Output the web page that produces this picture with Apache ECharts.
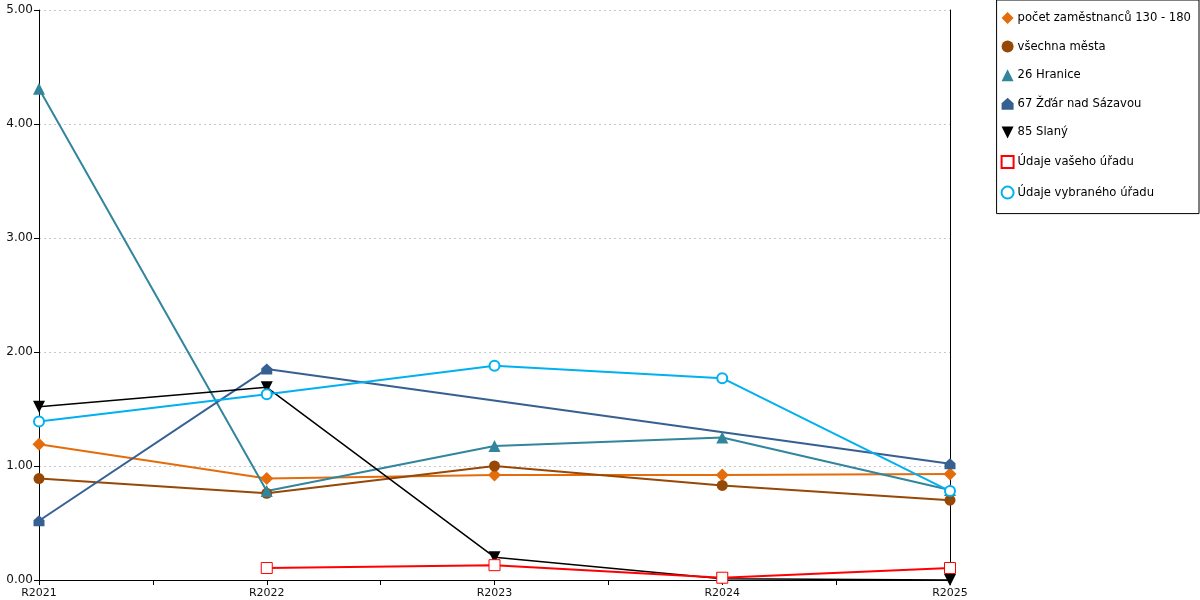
<!DOCTYPE html>
<html>
<head>
<meta charset="utf-8">
<script src="https://cdn.jsdelivr.net/npm/echarts@6/dist/echarts.min.js"></script>
<style>
    html,body{margin:0;padding:0;background:#fff;}
    #chart{width:1200px;height:600px;}
</style>
</head>
<body>
<div id="chart"></div>
<script>
    // roky
    var years = ['R2021', 'R2022', 'R2023', 'R2024', 'R2025'];
    var yTicks = [0, 1, 2, 3, 4, 5];

    var zamestnanci = [1.19, 0.89, 0.92, 0.92, 0.93];
    var vsechnaMesta = [0.89, 0.76, 1.00, 0.83, 0.70];
    var hranice = [4.31, 0.78, 1.175, 1.25, 0.79];
    var zdar = [0.52, 1.85, null, null, 1.02];
    var slany = [1.52, 1.69, 0.20, 0.01, 0.00];
    var vasUrad = [null, 0.105, 0.13, 0.02, 0.105];
    var vybranyUrad = [1.39, 1.63, 1.88, 1.77, 0.78];

    var names = ['počet zaměstnanců 130 - 180', 'všechna města', '26 Hranice',
        '67 Žďár nad Sázavou', '85 Slaný', 'Údaje vašeho úřadu', 'Údaje vybraného úřadu'];

    var house = 'path://M0,10 L0,4.5 L5,0 L10,4.5 L10,10 Z';
    var downTri = 'path://M0,0 L10,0 L5,10 Z';
    var icons = ['diamond', 'circle', 'triangle', house, downTri, 'rect', 'emptyCircle'];

    // hodnoty -> [x, y] pro ciselnou osu x
    function pairs(arr){
        var out = [];
        for (var i = 0; i < arr.length; i++) {
            if (arr[i] !== null) out.push([i, arr[i]]);
        }
        return out;
    }

    function ser(name, data, color, symbol, size, width, extra){
        var s = {
            name: name,
            type: 'line',
            data: pairs(data),
            symbol: symbol,
            symbolSize: size,
            showAllSymbol: true,
            connectNulls: true,
            lineStyle: {color: color, width: width},
            itemStyle: {color: color},
            emphasis: {disabled: true},
            animation: false
        };
        if (extra) for (var k in extra) s[k] = extra[k];
        return s;
    }

    var legendData = names.map(function(n, i){ return {name: n, icon: icons[i]}; });

    var chart = echarts.init(document.getElementById('chart'));
    chart.setOption({
        backgroundColor: '#fff',
        textStyle: {fontFamily: 'DejaVu Sans', fontSize: 12},
        grid: {left: 39, right: 250, top: 10, bottom: 20},
        legend: {
            orient: 'vertical',
            right: 1,
            top: 0,
            padding: [12, 8, 14, 4],
            itemGap: 16.6,
            itemWidth: 12,
            itemHeight: 12,
            borderColor: '#000',
            borderWidth: 1,
            textStyle: {color: '#000', fontSize: 11.6, fontFamily: 'DejaVu Sans', padding: [0, 0, 0, -1]},
            data: legendData
        },
        xAxis: {
            type: 'value',
            min: 0,
            max: years.length - 1,
            interval: 0.5,
            axisLine: {lineStyle: {color: '#000', width: 1}},
            axisTick: {show: true, length: 5, lineStyle: {color: '#000'}},
            splitLine: {show: false},
            axisLabel: {
                color: '#111', fontSize: 11, margin: 8,
                formatter: function(v){ return Number.isInteger(v) ? years[v] : ''; }
            }
        },
        yAxis: [{
            type: 'value',
            min: yTicks[0],
            max: yTicks[yTicks.length - 1],
            interval: 1,
            axisLine: {show: true, lineStyle: {color: '#000'}},
            axisTick: {show: true, length: 5, lineStyle: {color: '#000'}},
            splitLine: {show: true, lineStyle: {color: '#c8c8c8', type: [2, 3]}},
            axisLabel: {color: '#111', fontSize: 12, margin: 6,
                formatter: function(v){ return v.toFixed(2); }}
        }, {
            type: 'value',
            position: 'right',
            min: yTicks[0],
            max: yTicks[yTicks.length - 1],
            interval: 1,
            axisLine: {show: true, lineStyle: {color: '#000'}},
            axisTick: {show: false},
            axisLabel: {show: false},
            splitLine: {show: false}
        }],
        series: [
            ser(names[0], zamestnanci, '#E46C0A', icons[0], 13, 2),
            ser(names[1], vsechnaMesta, '#974806', icons[1], 11, 2),
            ser(names[2], hranice, '#31859C', icons[2], 12, 2),
            ser(names[3], zdar, '#366092', icons[3], 11, 2),
            ser(names[4], slany, '#000000', icons[4], 12, 1.5),
            ser(names[5], vasUrad, '#FF0000', icons[5], 11, 2,
                {itemStyle: {color: '#fff', borderColor: '#FF0000', borderWidth: 1}}),
            ser(names[6], vybranyUrad, '#00B0F0', icons[6], 10, 2,
                {itemStyle: {color: '#00B0F0', borderWidth: 1}})
        ]
    });
</script>
</body>
</html>
